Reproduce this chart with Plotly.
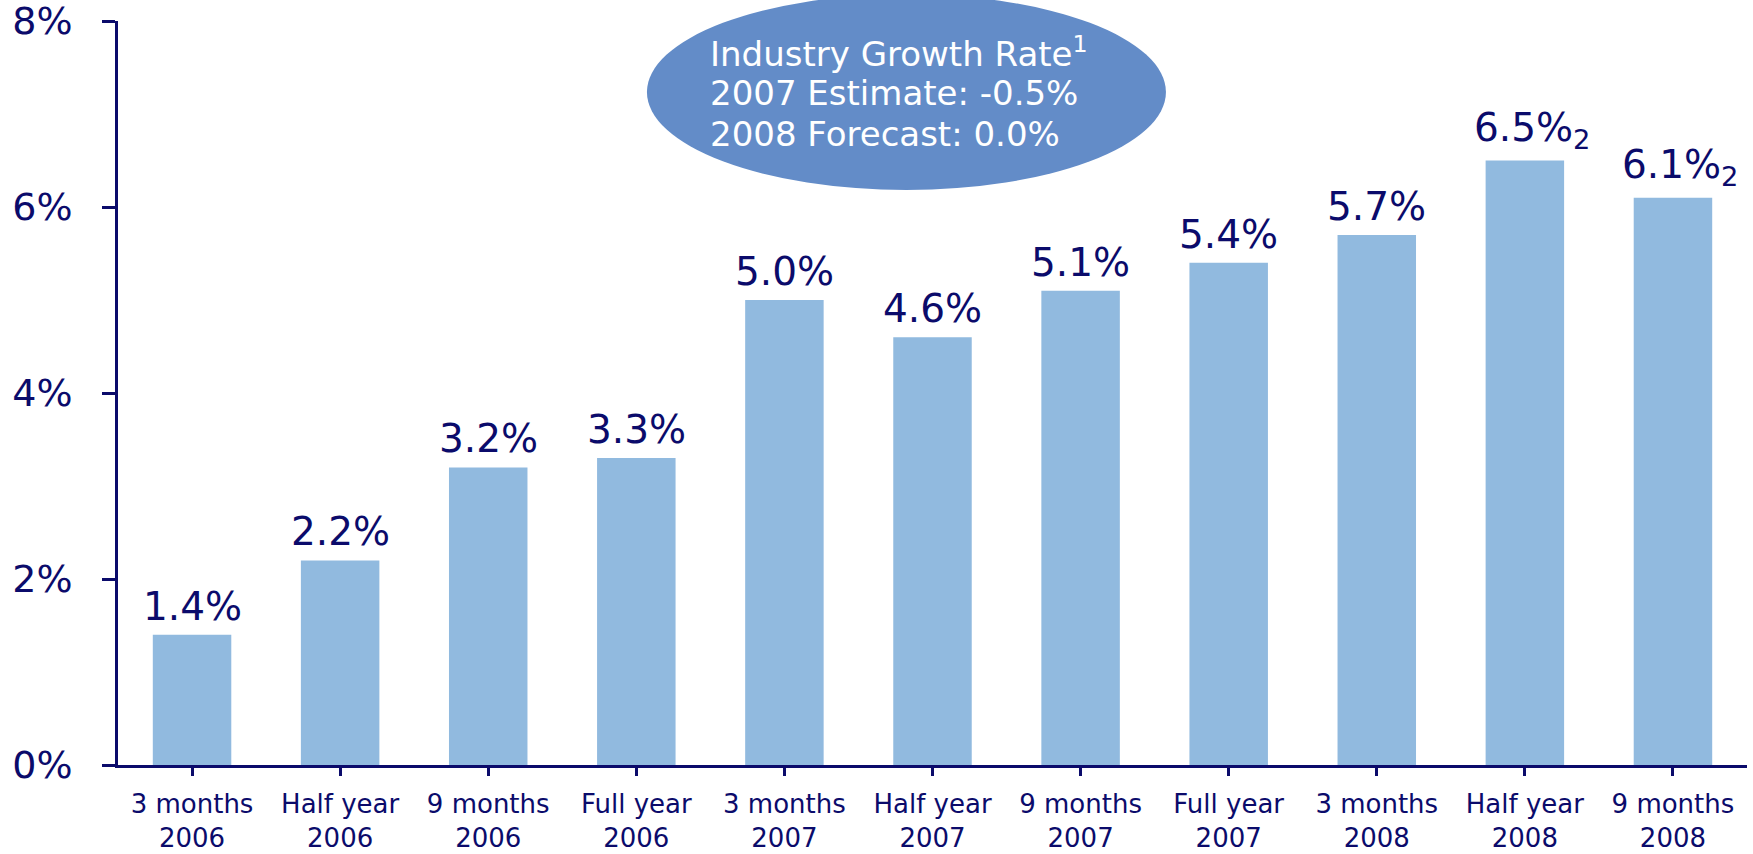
import plotly.graph_objects as go

periods = ["3 months", "Half year", "9 months", "Full year", "3 months", "Half year",
           "9 months", "Full year", "3 months", "Half year", "9 months"]
years = ["2006", "2006", "2006", "2006", "2007", "2007", "2007", "2007", "2008", "2008", "2008"]
growth = [1.4, 2.2, 3.2, 3.3, 5.0, 4.6, 5.1, 5.4, 5.7, 6.5, 6.1]
footnote = ["", "", "", "", "", "", "", "", "", "2", "2"]
y_ticks = [0, 2, 4, 6, 8]
y_tick_labels = ["0%", "2%", "4%", "6%", "8%"]
bubble_lines = ["Industry Growth Rate<sup>1</sup>", "2007 Estimate: -0.5%", "2008 Forecast: 0.0%"]

NAVY = "#0b0b6b"
BAR = "#91badf"
FONT = "DejaVu Sans"

cats = [f"{p}<br>{y}" for p, y in zip(periods, years)]
xs = list(range(len(cats)))

fig = go.Figure()
fig.add_trace(go.Bar(x=xs, y=growth, marker=dict(color=BAR, line=dict(width=0)),
                     hoverinfo="skip", cliponaxis=False))

for x, v, fn in zip(xs, growth, footnote):
    txt = f"{v:.1f}%" + (f"<sub>{fn}</sub>" if fn else "")
    fig.add_annotation(x=x, y=v, text=txt, showarrow=False, yanchor="bottom",
                       xanchor="center", yshift=4, xshift=(7 if fn else 0),
                       font=dict(family=FONT, size=39, color=NAVY))

fig.add_shape(type="circle", xref="paper", yref="paper",
              x0=0.3247, x1=0.6433, y0=0.773, y1=1.036,
              fillcolor="#638cc8", line=dict(width=0), layer="above")
line_y = [0.9590, 0.9036, 0.8482]
for txt, yy in zip(bubble_lines, line_y):
    fig.add_annotation(xref="paper", yref="paper", x=0.3622, y=yy,
                       xanchor="left", yanchor="middle", align="left", showarrow=False,
                       text=txt, font=dict(family=FONT, size=34, color="white"))

fig.update_layout(
    width=1753, height=854,
    margin=dict(l=118, r=6, t=21, b=89, autoexpand=False),
    plot_bgcolor="white", paper_bgcolor="white",
    bargap=0.47, showlegend=False,
    font=dict(family=FONT, color=NAVY),
)
fig.update_xaxes(
    tickmode="array", tickvals=xs, ticktext=cats, range=[-0.5, len(cats) - 0.5],
    showline=True, linecolor=NAVY, linewidth=2.5, ticks="outside", tickson="boundaries",
    ticklen=8, tickwidth=2.5, tickcolor=NAVY, showgrid=False, zeroline=False,
    tickfont=dict(family=FONT, size=26, color=NAVY), ticklabelstandoff=6,
    automargin=False, ticklabeloverflow="allow",
)
fig.update_yaxes(
    range=[0, 8], tickmode="array", tickvals=y_ticks, ticktext=y_tick_labels,
    showline=True, linecolor=NAVY, linewidth=2.5, ticks="outside", ticklen=13,
    tickwidth=2.5, tickcolor=NAVY, showgrid=False, zeroline=False,
    tickfont=dict(family=FONT, size=38, color=NAVY), ticklabelstandoff=22,
    automargin=False, ticklabeloverflow="allow",
)

fig.write_html("out.html", config={"displayModeBar": False},
               post_script="document.body.style.margin='0';document.body.style.overflow='hidden';")
